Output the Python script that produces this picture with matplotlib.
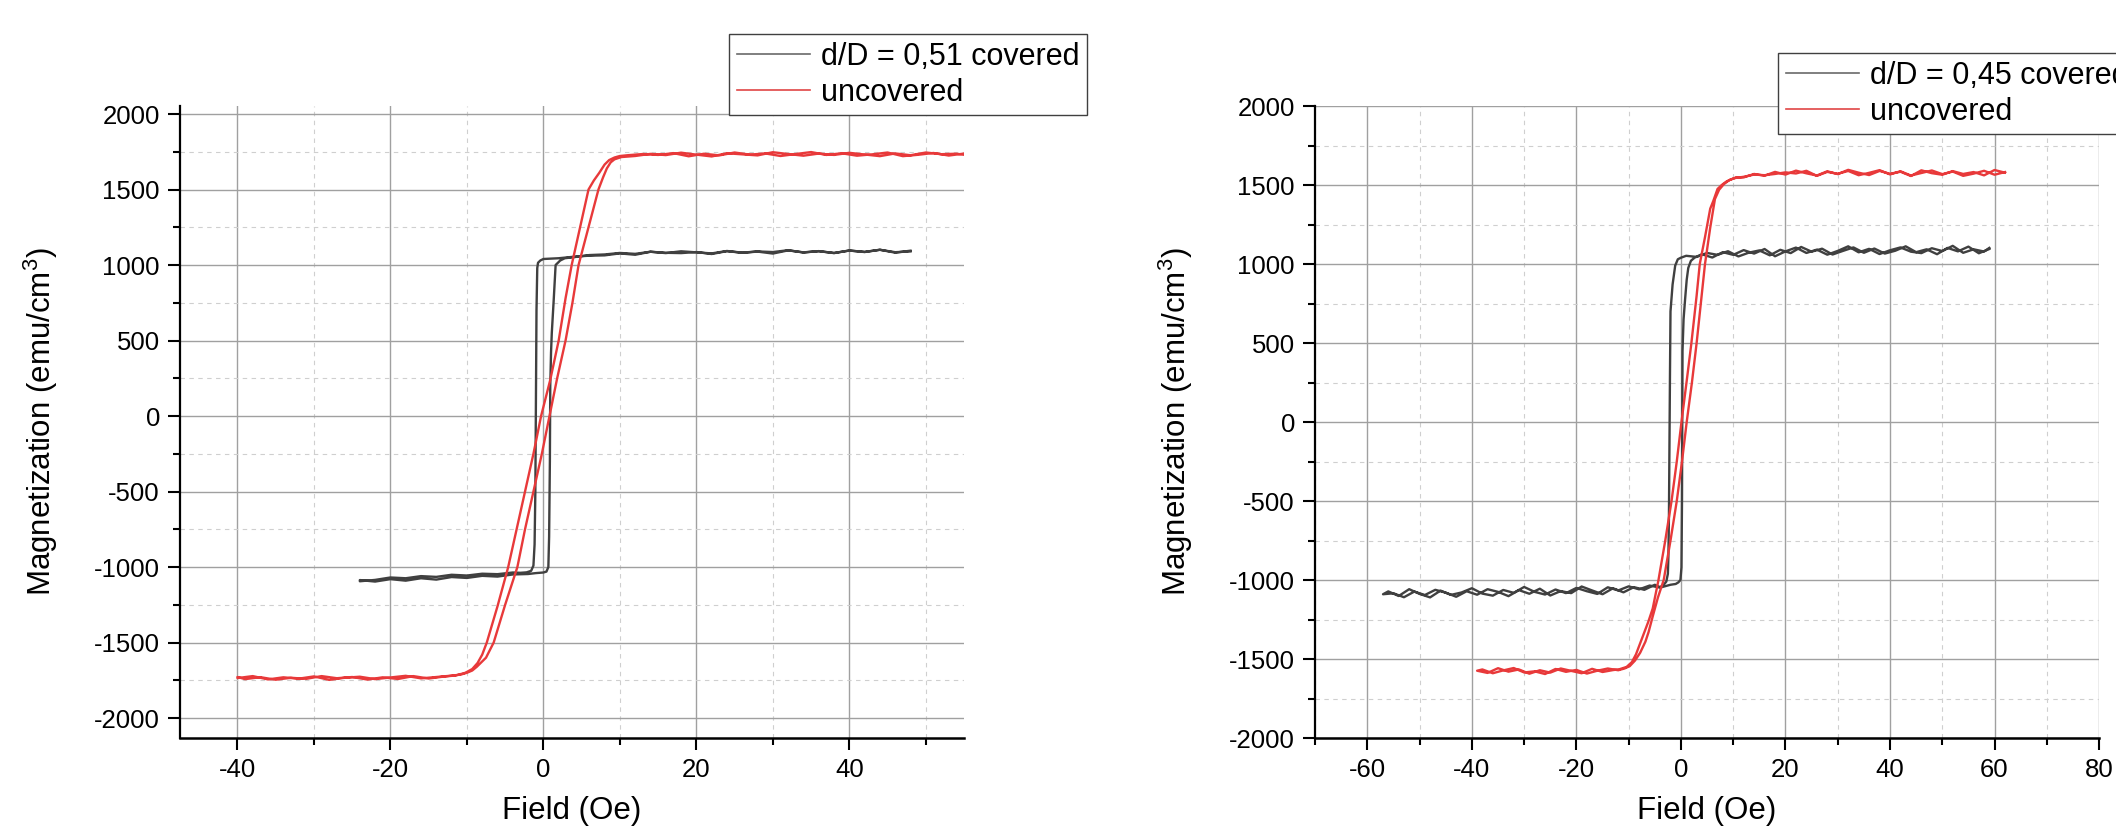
import matplotlib.pyplot as plt
from matplotlib.ticker import MultipleLocator
from matplotlib.lines import Line2D

cov51_down_h = [48, 46, 44, 42, 40, 38, 36, 34, 32, 30, 28, 26, 24, 22, 20, 18, 16, 14, 12, 10, 8, 6, 4, 2,
                0, -0.4, -0.7, -0.8, -0.9, -0.95, -1.0, -1.05, -1.15, -1.3, -1.6, -2.2, -3, -4,
                -6, -8, -10, -12, -14, -16, -18, -20, -22, -24]
cov51_down_m = [1095, 1082, 1101, 1086, 1096, 1079, 1092, 1084, 1097, 1076, 1089, 1081, 1092, 1073, 1086, 1079, 1081, 1088, 1068, 1077, 1064, 1062, 1055, 1045,
                1040, 1030, 1015, 980, 700, 300, -100, -500, -850, -990, -1025, -1035, -1038, -1036,
                -1047, -1044, -1056, -1051, -1065, -1060, -1074, -1069, -1085, -1094]
cov51_up_h = [-24, -22, -20, -18, -16, -14, -12, -10, -8, -6, -4, -2,
              -1, 0, 0.4, 0.65, 0.75, 0.85, 0.9, 1.0, 1.1, 1.35, 1.6, 2.2, 2.8,
              4, 6, 8, 10, 12, 14, 16, 18, 20, 22, 24, 26, 28, 30, 32, 34, 36, 38, 40, 42, 44, 46, 48]
cov51_up_m = [-1086, -1096, -1080, -1090, -1074, -1083, -1066, -1072, -1058, -1063, -1049, -1046,
              -1040, -1036, -1030, -1000, -800, -300, 200, 420, 550, 768, 1000, 1030, 1045,
              1052, 1066, 1070, 1080, 1074, 1088, 1079, 1091, 1084, 1077, 1093, 1082, 1090, 1086, 1098, 1083, 1092, 1080, 1096, 1087, 1101, 1085, 1090]

unc51_down_h = [55, 53, 51, 49, 47, 45, 43, 41, 39, 37, 35, 33, 31, 29, 27, 25, 23, 21, 19, 17, 15, 13, 11,
                10, 9.3, 8.6, 8, 7.3, 6.6, 5.9, 4.8, 3.7, 2.9, 2.0, 0.9, -0.3, -1.3, -2.4, -3.5, -4.6, -6, -7.4, -8, -8.6, -9.3, -10.2, -11.5,
                -13, -15, -17, -19, -21, -23, -25, -27, -29, -31, -33, -35, -37, -39, -40]
unc51_down_m = [1738, 1725, 1742, 1730, 1721, 1745, 1733, 1724, 1740, 1729, 1748, 1735, 1722, 1739, 1731, 1745, 1726, 1737, 1720, 1741, 1729, 1735, 1727,
                1722, 1712, 1695, 1665, 1610, 1560, 1500, 1250, 1000, 780, 500, 240, 0, -250, -500, -750, -1000, -1260, -1500, -1580, -1635, -1675, -1700, -1718,
                -1725, -1738, -1722, -1741, -1730, -1745, -1728, -1736, -1722, -1740, -1733, -1746, -1729, -1742, -1728]
unc51_up_h = [-40, -38, -36, -34, -32, -30, -28, -26, -24, -22, -20, -18, -16, -14, -12,
              -10.8, -10, -9.3, -8.7, -8.1, -7.5, -6.5, -5.0, -3.4, -2.4, -1.3, -0.2, 0.8, 1.8, 2.9, 3.8, 4.6, 5.9, 7.2, 7.8, 8.3, 8.8, 9.3, 10.2,
              12, 14, 16, 18, 20, 22, 24, 26, 28, 30, 32, 34, 36, 38, 40, 42, 44, 46, 48, 50, 52, 54, 55]
unc51_up_m = [-1735, -1722, -1744, -1730, -1739, -1724, -1747, -1733, -1726, -1742, -1731, -1720, -1737, -1728, -1719,
              -1712, -1700, -1685, -1660, -1630, -1600, -1500, -1250, -1000, -750, -500, -250, 0, 250, 500, 750, 1000, 1250, 1500, 1580, 1640, 1680, 1700, 1715,
              1722, 1736, 1728, 1744, 1731, 1719, 1740, 1733, 1726, 1747, 1735, 1724, 1738, 1729, 1743, 1732, 1721, 1739, 1727, 1745, 1734, 1737, 1730]

# right panel, d/D = 0,45
cov45_down_h = [59, 57, 55, 53, 51, 49, 47, 45, 43, 41, 39, 37, 35, 33, 31, 29, 27, 25, 23, 21, 19, 17, 15, 13, 11, 9, 7, 5, 3, 1,
                0, -0.6, -1.1, -1.6, -2.0, -2.1, -2.2, -2.3, -2.4, -2.5, -2.8, -3.3, -4,
                -5, -7, -9, -11, -13, -15, -17, -19, -21, -23, -25, -27, -29, -31, -33, -35, -37, -39, -41, -43, -45, -47, -49, -51, -53, -55, -57]
cov45_down_m = [1095, 1068, 1110, 1080, 1102, 1062, 1093, 1075, 1112, 1084, 1066, 1098, 1071, 1105, 1083, 1060, 1097, 1078, 1108, 1069, 1090, 1055, 1086, 1072, 1048, 1081, 1058, 1070, 1045, 1052,
                1040, 1030, 990, 870, 700, 300, -200, -600, -850, -960, -1010, -1030, -1045,
                -1030, -1062, -1045, -1078, -1052, -1090, -1066, -1041, -1083, -1070, -1098, -1055, -1087, -1064, -1102, -1075, -1058, -1093, -1071, -1106, -1080, -1062, -1095, -1073, -1109, -1084, -1090]
cov45_up_h = [-56, -54, -52, -50, -48, -46, -44, -42, -40, -38, -36, -34, -32, -30, -28, -26, -24, -22, -20, -18, -16, -14, -12, -10, -8, -6, -4, -2,
              -1.0, -0.5, -0.1, 0.1, 0.2, 0.25, 0.3, 0.5, 0.8, 1.1, 1.4, 1.9, 2.6,
              4, 6, 8, 10, 12, 14, 16, 18, 20, 22, 24, 26, 28, 30, 32, 34, 36, 38, 40, 42, 44, 46, 48, 50, 52, 54, 56, 58, 59]
cov45_up_m = [-1072, -1101, -1058, -1088, -1110, -1067, -1094, -1079, -1052, -1086, -1099, -1063, -1081, -1044, -1075, -1092, -1060, -1083, -1050, -1071, -1088, -1046, -1066, -1040, -1059, -1035, -1048, -1030,
              -1025, -1015, -1000, -920, -500, 0, 450, 650, 780, 900, 975, 1020, 1040,
              1062, 1041, 1075, 1058, 1088, 1066, 1095, 1049, 1080, 1104, 1070, 1091, 1059, 1083, 1112, 1074, 1096, 1063, 1087, 1105, 1078, 1069, 1100, 1082, 1115, 1071, 1093, 1079, 1102]

unc45_down_h = [62, 60, 58, 56, 54, 52, 50, 48, 46, 44, 42, 40, 38, 36, 34, 32, 30, 28, 26, 24, 22, 20, 18, 16, 14, 12,
                10.5, 9.5, 8.6, 7.8, 7.0, 6.2, 5.6, 4.6, 3.6, 3.0, 2.0, 1.1, 0.1, -0.8, -1.8, -3.0, -4.3, -5.4, -6.2, -7.0, -7.8, -8.6, -9.4, -10.4, -11.8,
                -13, -15, -17, -19, -21, -23, -25, -27, -29, -31, -33, -35, -37, -39]
unc45_down_m = [1582, 1565, 1590, 1572, 1558, 1585, 1569, 1592, 1576, 1560, 1587, 1567, 1594, 1577, 1562, 1589, 1571, 1583, 1558, 1590, 1573, 1580, 1570, 1562, 1566, 1552,
                1545, 1535, 1520, 1500, 1475, 1400, 1350, 1170, 1000, 800, 500, 260, 0, -250, -500, -750, -1000, -1180, -1260, -1330, -1400, -1470, -1520, -1550, -1565,
                -1570, -1582, -1562, -1590, -1575, -1560, -1586, -1571, -1593, -1566, -1580, -1558, -1588, -1574]
unc45_up_h = [-38, -36, -34, -32, -30, -28, -26, -24, -22, -20, -18, -16, -14, -12,
              -10.8, -9.8, -8.8, -7.8, -6.8, -6.2, -5.4, -4.4, -3.3, -2.0, -0.8, 0.2, 1.1, 2.1, 3.0, 3.8, 4.6, 5.6, 6.5, 7.3, 8.2, 9.2, 10.5,
              12, 14, 16, 18, 20, 22, 24, 26, 28, 30, 32, 34, 36, 38, 40, 42, 44, 46, 48, 50, 52, 54, 56, 58, 60, 62]
unc45_up_m = [-1566, -1590, -1572, -1557, -1585, -1578, -1595, -1563, -1581, -1569, -1592, -1574, -1560, -1571,
              -1560, -1545, -1510, -1460, -1390, -1330, -1230, -1110, -1000, -750, -500, -250, 0, 250, 500, 750, 1000, 1230, 1411, 1470, 1505, 1530, 1548,
              1548, 1570, 1559, 1583, 1566, 1591, 1574, 1560, 1587, 1569, 1596, 1578, 1563, 1589, 1571, 1584, 1557, 1593, 1575, 1565, 1588, 1570, 1582, 1561, 1595, 1578]

labels51 = ['d/D = 0,51 covered', 'uncovered']
labels45 = ['d/D = 0,45 covered', 'uncovered']

plt.rcParams['font.family'] = ['Liberation Sans', 'DejaVu Sans']
plt.rcParams['mathtext.fontset'] = 'custom'
plt.rcParams['mathtext.rm'] = 'Liberation Sans'
plt.rcParams['mathtext.default'] = 'regular'
plt.rcParams['axes.unicode_minus'] = False

gray = '#404040'
red = '#e8393a'

fig = plt.figure(figsize=(21.16, 8.4), dpi=100)
ax1 = fig.add_axes([0.0851, 0.1214, 0.3705, 0.7524])
ax2 = fig.add_axes([0.6215, 0.1214, 0.3705, 0.7524])


def style(ax, xlim, ylim):
    ax.set_xlim(xlim)
    ax.set_ylim(ylim)
    ax.xaxis.set_major_locator(MultipleLocator(20))
    ax.xaxis.set_minor_locator(MultipleLocator(10))
    ax.yaxis.set_major_locator(MultipleLocator(500))
    ax.yaxis.set_minor_locator(MultipleLocator(250))
    ax.grid(which='major', color='#a0a0a0', lw=1.0)
    ax.grid(which='minor', color='#cfcfcf', lw=0.8, ls=(0, (4, 4)))
    ax.set_axisbelow(True)
    ax.spines['top'].set_visible(False)
    ax.spines['right'].set_visible(False)
    ax.spines['left'].set_linewidth(1.6)
    ax.spines['bottom'].set_linewidth(1.8)
    ax.tick_params(which='major', direction='out', length=8.5, width=1.5, labelsize=18.5, pad=6)
    ax.tick_params(which='minor', direction='out', length=5, width=1.5)
    ax.set_xlabel('Field (Oe)', fontsize=22.5, labelpad=10)
    ax.set_ylabel('Magnetization (emu/cm$^3$)', fontsize=22.5)
    ax.yaxis.set_label_coords(-0.153, 0.5)


style(ax1, (-47.5, 55), (-2132, 2053))
style(ax2, (-70, 80), (-2000, 2000))

ax1.plot(cov51_down_h + cov51_up_h, cov51_down_m + cov51_up_m, color=gray, lw=1.7)
ax1.plot(unc51_down_h + unc51_up_h, unc51_down_m + unc51_up_m, color=red, lw=1.7)
ax2.plot(cov45_down_h + cov45_up_h, cov45_down_m + cov45_up_m, color=gray, lw=1.7)
ax2.plot(unc45_down_h + unc45_up_h, unc45_down_m + unc45_up_m, color=red, lw=1.7)

# legend boxes sit partly outside the axes, the right one runs off the figure edge like the original
handles = [Line2D([], [], color='#6a6a6a', lw=1.2), Line2D([], [], color='#e04545', lw=1.2)]
for ax, labels, anchor in [(ax1, labels51, (0.3445, 0.9595)), (ax2, labels45, (0.8403, 0.9369))]:
    leg = ax.legend(handles, labels, loc='upper left', bbox_to_anchor=anchor, bbox_transform=fig.transFigure,
                    borderaxespad=0, fontsize=22, fancybox=False, edgecolor='#404040', framealpha=1,
                    handlelength=2.4, handletextpad=0.35, labelspacing=0.2, borderpad=0.25)
    leg.get_frame().set_linewidth(1.0)

fig.savefig('out.png', dpi=100)
